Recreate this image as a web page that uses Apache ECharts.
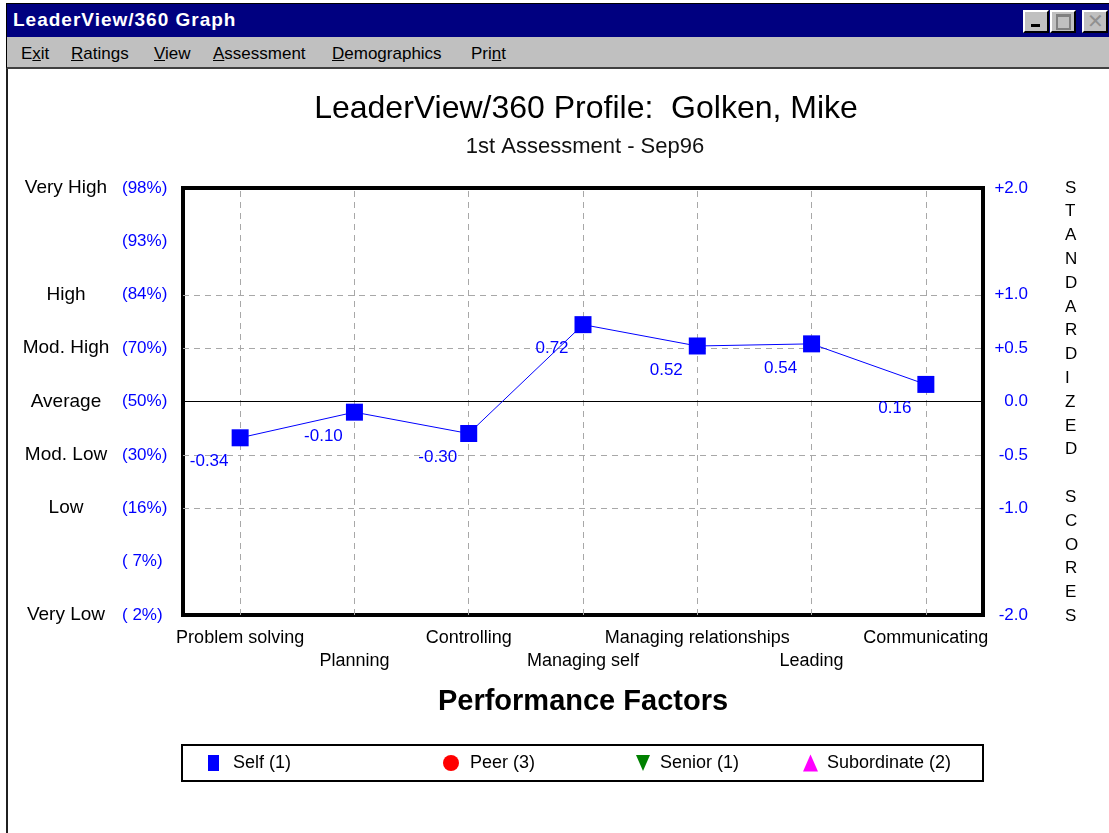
<!DOCTYPE html>
<html>
<head>
<meta charset="utf-8">
<title>LeaderView/360 Graph</title>
<script src="https://cdn.jsdelivr.net/npm/echarts@6/dist/echarts.min.js"></script>
<style>
  html, body { margin: 0; padding: 0; background: #fff; }
  body { width: 1109px; height: 833px; position: relative; overflow: hidden; font-family: 'Liberation Sans', Arial, sans-serif; }
  #chart { position: absolute; left: 0; top: 0; width: 1109px; height: 833px; }
  .titlebar { position: absolute; left: 6px; top: 3px; width: 1103px; height: 33px; background: #000080; border-top: 1px solid #000; border-left: 1px solid #000; z-index: 2; }
  .titlebar .caption { position: absolute; left: 6px; top: 5px; color: #fff; font-weight: bold; font-size: 19px; letter-spacing: 1px; }
  .btn { position: absolute; top: 6px; width: 22px; height: 19px; background: #c0c0c0; border-top: 2px solid #fff; border-left: 2px solid #fff; border-right: 2px solid #000; border-bottom: 2px solid #000; }
  .btn.min::after { content: ''; position: absolute; left: 6px; top: 12px; width: 9px; height: 3px; background: #000; }
  .btn.max::after { content: ''; position: absolute; left: 4px; top: 2px; width: 11px; height: 11px; border: 2px solid #808080; border-top-width: 3px; }
  .btn.close { color: #909090; font-size: 20px; line-height: 19px; text-align: center; }
  .menubar { position: absolute; left: 6px; top: 37px; width: 1103px; height: 30px; background: #c0c0c0; border-left: 1px solid #000; border-bottom: 2px solid #404040; z-index: 2; }
  .menubar span { position: absolute; top: 7px; font-size: 17px; color: #000; }
  .clientline { position: absolute; left: 6px; top: 69px; width: 2px; height: 764px; background: #202020; z-index: 2; }
</style>
</head>
<body>
<div id="chart"></div>
<div class="titlebar">
  <span class="caption">LeaderView/360 Graph</span>
  <div class="btn min" style="left:1016px"></div>
  <div class="btn max" style="left:1043px"></div>
  <div class="btn close" style="left:1075px">&#x2715;</div>
</div>
<div class="menubar">
  <span style="left:14px">E<u>x</u>it</span>
  <span style="left:64px"><u>R</u>atings</span>
  <span style="left:147px"><u>V</u>iew</span>
  <span style="left:206px"><u>A</u>ssessment</span>
  <span style="left:325px"><u>D</u>emographics</span>
  <span style="left:464px">Pri<u>n</u>t</span>
</div>
<div class="clientline"></div>
<script>
// performance factors and the self rating (standardized scores)
const categories = ['Problem solving', 'Planning', 'Controlling', 'Managing self', 'Managing relationships', 'Leading', 'Communicating']
const selfScores = [-0.34, -0.10, -0.30, 0.72, 0.52, 0.54, 0.16]

// y axis tick labels, one entry per 0.5 step from -2.0 to +2.0
const ratingLabels = ['Very Low', '', 'Low', 'Mod. Low', 'Average', 'Mod. High', 'High', '', 'Very High']
const percentLabels = ['( 2%)', '( 7%)', '(16%)', '(30%)', '(50%)', '(70%)', '(84%)', '(93%)', '(98%)']
const standardLabels = ['-2.0', '', '-1.0', '-0.5', '0.0', '+0.5', '+1.0', '', '+2.0']
const dashedLevels = [-1, -0.5, 0.5, 1]

const legendNames = ['Self (1)', 'Peer (3)', 'Senior (1)', 'Subordinate (2)']
const sideTitle = 'STANDARDIZED SCORES'

const FONT = "'Liberation Sans', Arial, sans-serif"
const BLUE = '#0000ff'
const GRID = { left: 183, top: 188, width: 800, height: 427 }

function tickIndex(value) {
  return Math.round(value * 2) + 4
}

function valueAxis(position, labels, opts) {
  return {
    type: 'value',
    position: position,
    min: -2,
    max: 2,
    interval: 0.5,
    axisLine: { show: false },
    axisTick: { show: false },
    splitLine: { show: false },
    axisLabel: Object.assign({
      fontFamily: FONT,
      fontSize: 17,
      formatter: (v) => labels[tickIndex(v)] || ''
    }, opts)
  }
}

function buildOption() {
  const legendLeft = [208, 443, 636, 803]
  const legendStyle = [
    { icon: 'rect', color: BLUE, w: 11, h: 16, pad: 9 },
    { icon: 'circle', color: '#ff0000', w: 16, h: 16, pad: 6 },
    { icon: 'path://M0,0L14,0L7,16Z', color: '#008000', w: 14, h: 16, pad: 5 },
    { icon: 'triangle', color: '#ff00ff', w: 15, h: 17, pad: 4 }
  ]

  return {
    animation: false,
    title: [
      {
        text: 'LeaderView/360 Profile:  Golken, Mike',
        left: 581,
        top: 88,
        textAlign: 'center',
        textStyle: { fontFamily: FONT, fontSize: 32, fontWeight: 'normal', color: '#000' }
      },
      {
        text: '1st Assessment - Sep96',
        left: 580,
        top: 131,
        textAlign: 'center',
        textStyle: { fontFamily: FONT, fontSize: 22, fontWeight: 'normal', color: '#111' }
      }
    ],
    grid: Object.assign({ show: true, borderColor: '#000', borderWidth: 4, backgroundColor: 'transparent' }, GRID),
    legend: legendNames.map((name, i) => ({
      data: [{ name: name, icon: legendStyle[i].icon }],
      left: legendLeft[i],
      top: 754,
      padding: 0,
      itemWidth: legendStyle[i].w,
      itemHeight: legendStyle[i].h,
      selectedMode: false,
      textStyle: { fontFamily: FONT, fontSize: 18, color: '#000', padding: [0, 0, 0, legendStyle[i].pad] }
    })),
    xAxis: {
      type: 'category',
      data: categories,
      boundaryGap: true,
      axisLine: { show: false },
      axisTick: { show: false },
      splitLine: { show: false },
      name: 'Performance Factors',
      nameLocation: 'middle',
      nameGap: 72,
      nameTextStyle: { fontFamily: FONT, fontSize: 29, fontWeight: 'bold', color: '#000', verticalAlign: 'top' },
      axisLabel: {
        interval: 0,
        margin: 12,
        fontFamily: FONT,
        fontSize: 18,
        lineHeight: 23,
        color: '#000',
        formatter: (v, i) => (i % 2 ? '\n' + v : v)
      }
    },
    yAxis: [
      valueAxis('left', percentLabels, { color: BLUE, align: 'left', margin: 61 }),
      valueAxis('left', ratingLabels, { color: '#000', align: 'center', margin: 117, fontSize: 19 }),
      valueAxis('right', standardLabels, { color: BLUE, align: 'right', margin: 45 })
    ],
    graphic: [
      {
        type: 'text',
        left: 1065,
        top: 176,
        style: {
          text: sideTitle.split('').join('\n'),
          fontFamily: FONT,
          fontSize: 17,
          lineHeight: 23.8,
          fill: '#000',
          align: 'center'
        }
      },
      {
        type: 'rect',
        shape: { x: 182, y: 745, width: 801, height: 36 },
        style: { fill: 'none', stroke: '#000', lineWidth: 2 }
      }
    ],
    series: [
      {
        name: 'gridlines',
        type: 'line',
        data: [],
        z: 1,
        silent: true,
        markLine: {
          silent: true,
          symbol: 'none',
          label: { show: false },
          animation: false,
          data: [
            ...categories.map((c) => ({ xAxis: c, lineStyle: { color: '#a8a8a8', type: [6, 5], width: 1 } })),
            ...dashedLevels.map((v) => ({ yAxis: v, lineStyle: { color: '#a8a8a8', type: [6, 5], width: 1 } })),
            { yAxis: 0, lineStyle: { color: '#000', type: 'solid', width: 1 } }
          ]
        }
      },
      {
        name: 'Self (1)',
        type: 'line',
        data: selfScores,
        z: 5,
        color: BLUE,
        symbol: 'rect',
        symbolSize: 17,
        lineStyle: { color: BLUE, width: 1 },
        itemStyle: { color: BLUE },
        label: {
          show: true,
          position: 'inside',
          offset: [-31, 24],
          fontFamily: FONT,
          fontSize: 17,
          color: BLUE,
          formatter: (p) => p.value.toFixed(2)
        }
      },
      { name: 'Peer (3)', type: 'line', data: [], color: '#ff0000' },
      { name: 'Senior (1)', type: 'line', data: [], color: '#008000' },
      { name: 'Subordinate (2)', type: 'line', data: [], color: '#ff00ff' }
    ]
  }
}

const chart = echarts.init(document.getElementById('chart'))
chart.setOption(buildOption())
</script>
</body>
</html>
